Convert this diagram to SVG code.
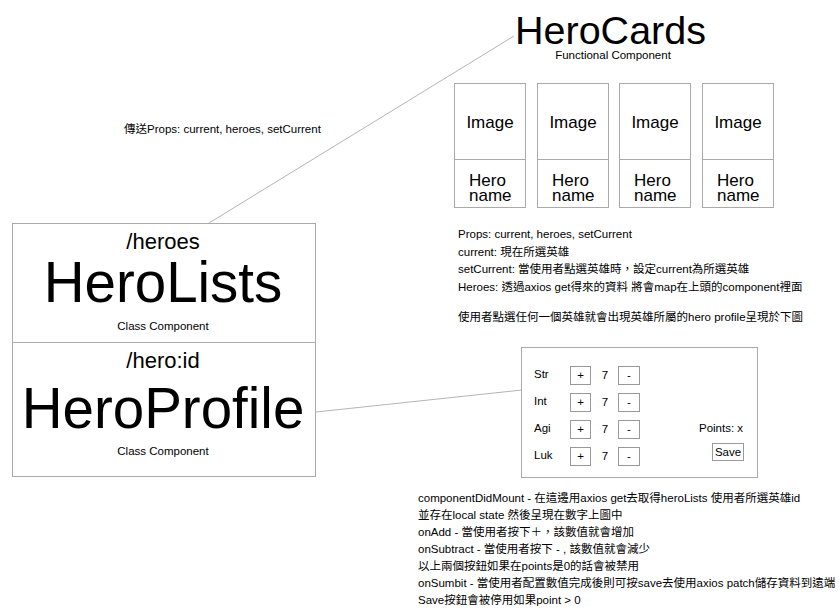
<svg xmlns="http://www.w3.org/2000/svg" width="840" height="615" viewBox="0 0 840 615">
<style>
text{font-family:"Liberation Sans",Arial,"Noto Sans CJK TC",sans-serif;fill:#000}
.box{fill:#fff;stroke:#aaa;stroke-width:1}
.btn{fill:#fff;stroke:#999;stroke-width:1}
.conn{stroke:#b5b5b5;stroke-width:1;fill:none}
.c{text-anchor:middle}
.s11{font-size:11.5px}
.s17{font-size:17px}
</style>
<rect width="840" height="615" fill="#fff"/>
<g id="connectors">
<line class="conn" x1="209" y1="223" x2="514" y2="36"/>
<line class="conn" x1="316" y1="412" x2="522" y2="390"/>
</g>
<g id="herocards-title">
<text x="515" y="44" font-size="39.5">HeroCards</text>
<text x="613" y="59" class="c s11">Functional Component</text>
</g>
<g id="card1">
<rect class="box" x="454.5" y="83.5" width="71" height="124"/>
<line x1="454.5" y1="159.5" x2="525.5" y2="159.5" stroke="#aaa"/>
<text x="490" y="128" class="c s17">Image</text>
<text x="469" y="186" class="s17">Hero</text><text x="469" y="201" class="s17">name</text>
</g>
<g id="card2">
<rect class="box" x="537.5" y="83.5" width="71" height="124"/>
<line x1="537.5" y1="159.5" x2="608.5" y2="159.5" stroke="#aaa"/>
<text x="573" y="128" class="c s17">Image</text>
<text x="552" y="186" class="s17">Hero</text><text x="552" y="201" class="s17">name</text>
</g>
<g id="card3">
<rect class="box" x="619.5" y="83.5" width="71" height="124"/>
<line x1="619.5" y1="159.5" x2="690.5" y2="159.5" stroke="#aaa"/>
<text x="655" y="128" class="c s17">Image</text>
<text x="634" y="186" class="s17">Hero</text><text x="634" y="201" class="s17">name</text>
</g>
<g id="card4">
<rect class="box" x="702.5" y="83.5" width="71" height="124"/>
<line x1="702.5" y1="159.5" x2="773.5" y2="159.5" stroke="#aaa"/>
<text x="738" y="128" class="c s17">Image</text>
<text x="717" y="186" class="s17">Hero</text><text x="717" y="201" class="s17">name</text>
</g>
<g id="props-label">
<text x="124" y="133" class="s11">傳送Props: current, heroes, setCurrent</text>
</g>
<g id="herolists">
<rect class="box" x="12.5" y="223.5" width="303" height="119"/>
<text x="163" y="249" class="c" font-size="22">/heroes</text>
<text x="163" y="302" class="c" font-size="56.5">HeroLists</text>
<text x="163" y="330" class="c s11">Class Component</text>
</g>
<g id="heroprofile">
<rect class="box" x="12.5" y="342.5" width="303" height="134"/>
<text x="163" y="368" class="c" font-size="22">/hero:id</text>
<text x="163" y="428" class="c" font-size="56.5">HeroProfile</text>
<text x="163" y="455" class="c s11">Class Component</text>
</g>
<g id="props-notes" class="s11">
<text x="458" y="238">Props: current, heroes, setCurrent</text>
<text x="458" y="256">current: 現在所選英雄</text>
<text x="458" y="273">setCurrent: 當使用者點選英雄時，設定current為所選英雄</text>
<text x="458" y="291">Heroes: 透過axios get得來的資料 將會map在上頭的component裡面</text>
<text x="458" y="321">使用者點選任何一個英雄就會出現英雄所屬的hero profile呈現於下圖</text>
</g>
<g id="stats-panel">
<rect class="box" x="521.5" y="347.5" width="236" height="130"/>
<g class="s11">
<text x="534" y="378">Str</text>
<text x="534" y="405">Int</text>
<text x="534" y="432">Agi</text>
<text x="534" y="459">Luk</text>
</g>
<g>
<rect class="btn" x="570.5" y="366.5" width="20" height="18"/>
<rect class="btn" x="618.5" y="366.5" width="21" height="18"/>
<rect class="btn" x="570.5" y="393.5" width="20" height="18"/>
<rect class="btn" x="618.5" y="393.5" width="21" height="18"/>
<rect class="btn" x="570.5" y="420.5" width="20" height="18"/>
<rect class="btn" x="618.5" y="420.5" width="21" height="18"/>
<rect class="btn" x="570.5" y="447.5" width="20" height="18"/>
<rect class="btn" x="618.5" y="447.5" width="21" height="18"/>
</g>
<g class="s11 c">
<text x="580.5" y="379">+</text><text x="605" y="379">7</text><text x="629" y="379">-</text>
<text x="580.5" y="406">+</text><text x="605" y="406">7</text><text x="629" y="406">-</text>
<text x="580.5" y="433">+</text><text x="605" y="433">7</text><text x="629" y="433">-</text>
<text x="580.5" y="460">+</text><text x="605" y="460">7</text><text x="629" y="460">-</text>
</g>
<text x="699" y="432" class="s11">Points: x</text>
<rect class="btn" x="712.5" y="443.5" width="31" height="17"/>
<text x="728" y="456" class="c s11">Save</text>
</g>
<g id="profile-notes" class="s11">
<text x="418" y="502">componentDidMount - 在這邊用axios get去取得heroLists 使用者所選英雄id</text>
<text x="418" y="519">並存在local state 然後呈現在數字上圖中</text>
<text x="418" y="536">onAdd - 當使用者按下＋，該數值就會增加</text>
<text x="418" y="553">onSubtract - 當使用者按下 - , 該數值就會減少</text>
<text x="418" y="570">以上兩個按鈕如果在points是0的話會被禁用</text>
<text x="418" y="587">onSumbit - 當使用者配置數值完成後則可按save去使用axios patch儲存資料到遠端</text>
<text x="418" y="604">Save按鈕會被停用如果point &gt; 0</text>
</g>
</svg>
